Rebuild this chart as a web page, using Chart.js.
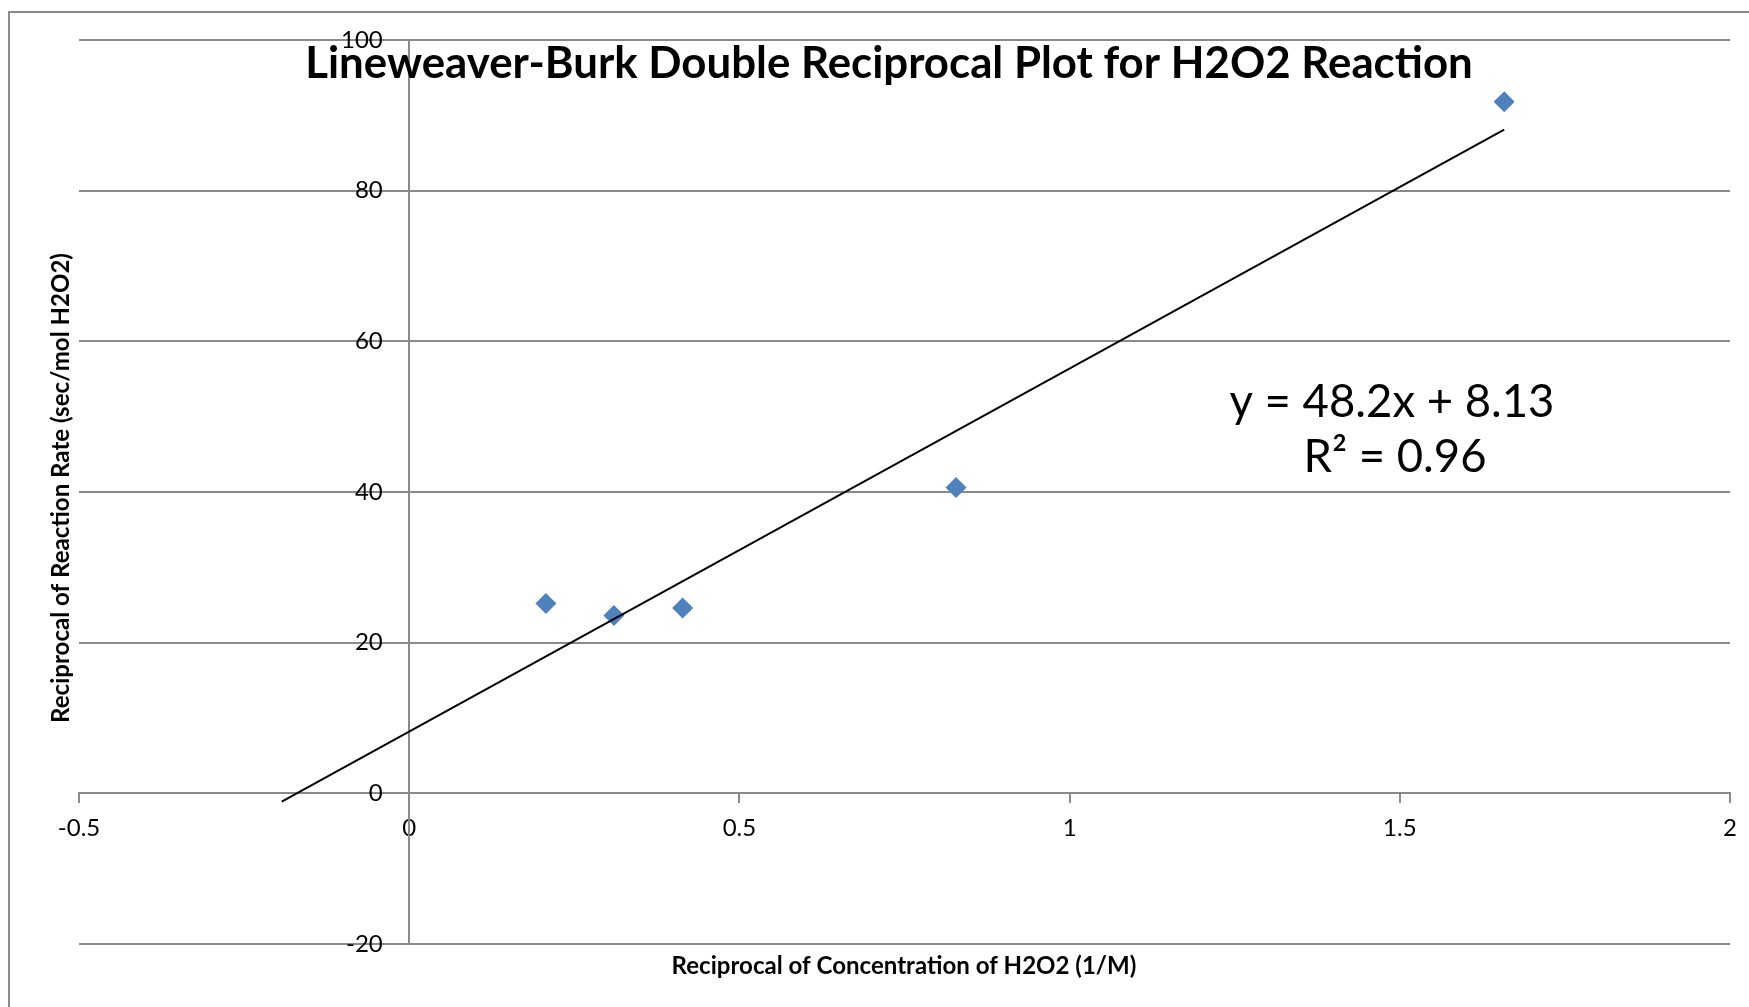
<!DOCTYPE html>
<html>
<head>
<meta charset="utf-8">
<title>Lineweaver-Burk Double Reciprocal Plot</title>
<script src="https://cdn.jsdelivr.net/npm/chart.js@4.4.1/dist/chart.umd.min.js"></script>
<style>
  html, body { margin: 0; padding: 0; background: #fff; overflow: hidden; }
  #frame { position: absolute; left: 8px; top: 11px; width: 1760px; height: 1010px;
           border-left: 2px solid #8a8a8a; border-top: 2px solid #8a8a8a; }
  #wrap { position: absolute; left: 0; top: 0; width: 1749px; height: 1007px; }
</style>
</head>
<body>
<div id="frame"></div>
<div id="wrap"><canvas id="lbChart"></canvas></div>
<script>
// 1/[H2O2] (1/M) and 1/rate (sec/mol H2O2)
const xValues = [0.207, 0.310, 0.414, 0.828, 1.658];
const yValues = [25.2, 23.6, 24.6, 40.6, 91.8];

// ends of the linear trendline as drawn
const trendX = [-0.193, 1.658];
const trendY = [-1.1, 88.1];

const xTicks = [-0.5, 0, 0.5, 1, 1.5, 2];
const yTicks = [-20, 0, 20, 40, 60, 80, 100];

const titleText = 'Lineweaver-Burk Double Reciprocal Plot for H2O2 Reaction';
const xTitle = 'Reciprocal of Concentration of H2O2 (1/M)';
const yTitle = 'Reciprocal of Reaction Rate (sec/mol H2O2)';
const eqLines = ['y = 48.2x + 8.13', 'R\u00B2 = 0.96'];

const GRAY = '#8a8a8a';
const FONT = 'Lato';
const tickFont = { family: FONT, size: 24 };

function fitFont(ctx, text, weight, width) {
  ctx.font = weight + ' 100px ' + FONT;
  const size = 100 * width / ctx.measureText(text).width;
  ctx.font = weight + ' ' + size.toFixed(2) + 'px ' + FONT;
  return size;
}

// title, axis titles and trendline label sit inside the plot like in Excel
const textPlugin = {
  id: 'excelText',
  afterDraw(chart) {
    const ctx = chart.ctx;
    ctx.save();
    ctx.fillStyle = '#000';
    ctx.textAlign = 'center';
    ctx.textBaseline = 'alphabetic';

    fitFont(ctx, titleText, 'bold', 1168);
    ctx.fillText(titleText, 889, 78);

    fitFont(ctx, xTitle, 'bold', 465);
    ctx.fillText(xTitle, 904, 974);

    fitFont(ctx, eqLines[0], 'normal', 325);
    ctx.fillText(eqLines[0], 1392, 417);
    ctx.fillText(eqLines[1], 1395, 472);

    ctx.translate(69, 488);
    ctx.rotate(-Math.PI / 2);
    fitFont(ctx, yTitle, 'bold', 470);
    ctx.fillText(yTitle, 0, 0);
    ctx.restore();
  }
};

function makeChart() {
  const ctx = document.getElementById('lbChart').getContext('2d');
  new Chart(ctx, {
    type: 'scatter',
    data: {
      datasets: [{
        label: 'Linear fit',
        data: trendX.map((x, i) => ({ x: x, y: trendY[i] })),
        showLine: true,
        borderColor: '#000',
        borderWidth: 2,
        pointRadius: 0,
        fill: false
      }, {
        label: 'Data',
        data: xValues.map((x, i) => ({ x: x, y: yValues[i] })),
        pointStyle: 'rectRot',
        pointRadius: 10.5,
        backgroundColor: '#4f81bd',
        borderColor: '#4f81bd',
        borderWidth: 0,
        showLine: false
      }]
    },
    options: {
      responsive: true,
      maintainAspectRatio: false,
      animation: false,
      layout: { padding: { left: 79, right: 15, top: 40, bottom: 63 } },
      plugins: {
        legend: { display: false },
        tooltip: { enabled: false },
        title: { display: false }
      },
      scales: {
        x: {
          type: 'linear',
          min: -0.5,
          max: 2,
          position: { y: 0 },
          afterBuildTicks: s => { s.ticks = xTicks.map(v => ({ value: v })); },
          afterFit: s => { s.height = 0; },
          grid: { drawOnChartArea: false, drawTicks: true, tickLength: 9, color: GRAY, lineWidth: 2 },
          border: { display: true, color: GRAY, width: 2 },
          ticks: { color: '#000', font: tickFont, padding: 12, maxRotation: 0, autoSkip: false,
                   callback: v => String(v) }
        },
        // axis line, gridlines and tick marks crossing at x = 0
        y: {
          type: 'linear',
          min: -20,
          max: 100,
          position: { x: 0 },
          afterBuildTicks: s => { s.ticks = yTicks.map(v => ({ value: v })); },
          afterFit: s => { s.width = 0; },
          grid: { drawTicks: true, tickLength: 9, color: GRAY, lineWidth: 2 },
          border: { display: true, color: GRAY, width: 2 },
          ticks: { display: false }
        },
        // tick labels, set a little left of the y axis line
        yLabels: {
          type: 'linear',
          axis: 'y',
          min: -20,
          max: 100,
          position: { x: -0.04 },
          afterBuildTicks: s => { s.ticks = yTicks.map(v => ({ value: v })); },
          afterFit: s => { s.width = 0; },
          grid: { display: false },
          border: { display: false },
          ticks: { color: '#000', font: tickFont, padding: 0, autoSkip: false,
                   callback: v => String(v) }
        }
      }
    },
    plugins: [textPlugin]
  });
}

Promise.all([
  document.fonts.load('24px ' + FONT),
  document.fonts.load('bold 24px ' + FONT)
]).then(makeChart, makeChart);
</script>
</body>
</html>
